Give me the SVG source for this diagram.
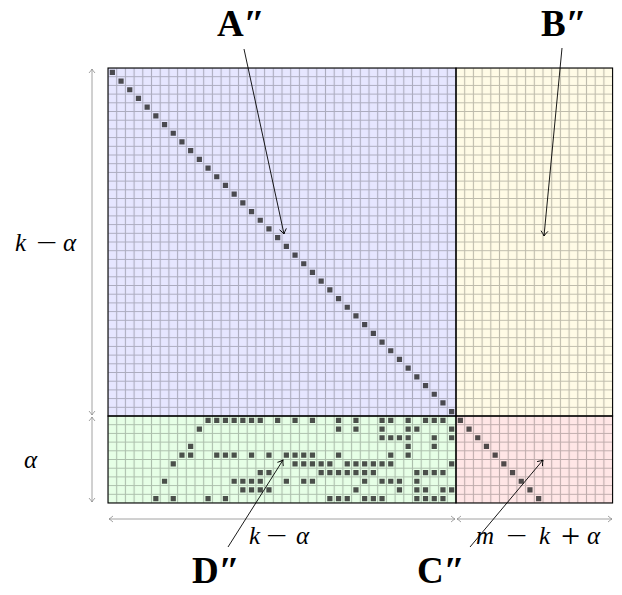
<svg xmlns="http://www.w3.org/2000/svg" width="622" height="595" viewBox="0 0 622 595">
<style>
.grid{fill:url(#grid)}
.blk{stroke:#000;stroke-width:1.1;fill:none}
.dot{fill:#232323;fill-opacity:0.8}
.dim{stroke:#8c8c8c;stroke-width:0.8;fill:none;marker-start:url(#dimhead);marker-end:url(#dimhead)}
.ptr{stroke:#000;stroke-width:0.9;fill:none;marker-end:url(#ptrhead)}
.m{font-family:"Liberation Serif","DejaVu Serif",serif;font-size:25px;fill:#000;font-style:italic}
.op{font-family:"Liberation Serif","DejaVu Serif",serif;font-size:25px;fill:#000}
.pl{font-family:"Liberation Serif","DejaVu Serif",serif;font-size:34px;fill:#000}
.big{font-family:"Liberation Serif","DejaVu Serif",serif;font-size:37px;font-weight:bold;fill:#000}
.pr{font-size:38px}
</style>
<defs>
<pattern id="grid" x="103.65" y="63.65" width="8.7" height="8.7" patternUnits="userSpaceOnUse">
<path d="M4.35 0V8.7M0 4.35H8.7" stroke="#000" stroke-opacity="0.25" stroke-width="1.1" fill="none"/>
</pattern>
<marker id="dimhead" viewBox="-6 -5 8 10" markerWidth="8" markerHeight="10" refX="0" refY="0" orient="auto-start-reverse" markerUnits="userSpaceOnUse">
<path d="M-4,-3 Q-1.5,-0.8 0,0 Q-1.5,0.8 -4,3" stroke="#8c8c8c" stroke-width="0.8" fill="none"/>
</marker>
<marker id="ptrhead" viewBox="-7 -5 9 10" markerWidth="9" markerHeight="10" refX="0" refY="0" orient="auto" markerUnits="userSpaceOnUse">
<path d="M-5,-3.5 Q-2,-1 0,0 Q-2,1 -5,3.5" stroke="#000" stroke-width="0.9" fill="none"/>
</marker>
</defs>
<rect width="622" height="595" fill="#fff"/>

<g id="blockA">
<rect x="108" y="68" width="348" height="348" fill="#e6e6ff"/>
<rect class="grid" x="108" y="68" width="348" height="348"/>
</g>
<g id="blockB">
<rect x="456" y="68" width="156.6" height="348" fill="#fffbe6"/>
<rect class="grid" x="456" y="68" width="156.6" height="348"/>
</g>
<g id="blockD">
<rect x="108" y="416" width="348" height="87" fill="#e6ffe6"/>
<rect class="grid" x="108" y="416" width="348" height="87"/>
</g>
<g id="blockC">
<rect x="456" y="416" width="156.6" height="87" fill="#ffe6e6"/>
<rect class="grid" x="456" y="416" width="156.6" height="87"/>
</g>

<g id="entries" transform="translate(108,68) scale(8.7)">
<path class="dot" d="M0.2 0.2h.6v.6h-.6zM1.2 1.2h.6v.6h-.6zM2.2 2.2h.6v.6h-.6zM3.2 3.2h.6v.6h-.6zM4.2 4.2h.6v.6h-.6zM5.2 5.2h.6v.6h-.6zM6.2 6.2h.6v.6h-.6zM7.2 7.2h.6v.6h-.6zM8.2 8.2h.6v.6h-.6zM9.2 9.2h.6v.6h-.6zM10.2 10.2h.6v.6h-.6zM11.2 11.2h.6v.6h-.6zM12.2 12.2h.6v.6h-.6zM13.2 13.2h.6v.6h-.6zM14.2 14.2h.6v.6h-.6zM15.2 15.2h.6v.6h-.6zM16.2 16.2h.6v.6h-.6zM17.2 17.2h.6v.6h-.6zM18.2 18.2h.6v.6h-.6zM19.2 19.2h.6v.6h-.6zM20.2 20.2h.6v.6h-.6zM21.2 21.2h.6v.6h-.6zM22.2 22.2h.6v.6h-.6zM23.2 23.2h.6v.6h-.6zM24.2 24.2h.6v.6h-.6zM25.2 25.2h.6v.6h-.6zM26.2 26.2h.6v.6h-.6zM27.2 27.2h.6v.6h-.6zM28.2 28.2h.6v.6h-.6zM29.2 29.2h.6v.6h-.6zM30.2 30.2h.6v.6h-.6zM31.2 31.2h.6v.6h-.6zM32.2 32.2h.6v.6h-.6zM33.2 33.2h.6v.6h-.6zM34.2 34.2h.6v.6h-.6zM35.2 35.2h.6v.6h-.6zM36.2 36.2h.6v.6h-.6zM37.2 37.2h.6v.6h-.6zM38.2 38.2h.6v.6h-.6zM39.2 39.2h.6v.6h-.6zM40.2 40.2h.6v.6h-.6zM41.2 41.2h.6v.6h-.6zM42.2 42.2h.6v.6h-.6zM43.2 43.2h.6v.6h-.6zM44.2 44.2h.6v.6h-.6zM45.2 45.2h.6v.6h-.6zM46.2 46.2h.6v.6h-.6zM47.2 47.2h.6v.6h-.6zM48.2 48.2h.6v.6h-.6zM49.2 49.2h.6v.6h-.6z"/>
<path class="dot" d="M11.2 40.2h.6v.6h-.6zM12.2 40.2h.6v.6h-.6zM13.2 40.2h.6v.6h-.6zM14.2 40.2h.6v.6h-.6zM15.2 40.2h.6v.6h-.6zM16.2 40.2h.6v.6h-.6zM17.2 40.2h.6v.6h-.6zM19.2 40.2h.6v.6h-.6zM21.2 40.2h.6v.6h-.6zM23.2 40.2h.6v.6h-.6zM26.2 40.2h.6v.6h-.6zM28.2 40.2h.6v.6h-.6zM31.2 40.2h.6v.6h-.6zM32.2 40.2h.6v.6h-.6zM34.2 40.2h.6v.6h-.6zM36.2 40.2h.6v.6h-.6zM37.2 40.2h.6v.6h-.6zM38.2 40.2h.6v.6h-.6z
M10.2 41.2h.6v.6h-.6zM26.2 41.2h.6v.6h-.6zM28.2 41.2h.6v.6h-.6zM31.2 41.2h.6v.6h-.6zM34.2 41.2h.6v.6h-.6zM35.2 41.2h.6v.6h-.6zM39.2 41.2h.6v.6h-.6z
M31.2 42.2h.6v.6h-.6zM32.2 42.2h.6v.6h-.6zM33.2 42.2h.6v.6h-.6zM34.2 42.2h.6v.6h-.6zM37.2 42.2h.6v.6h-.6zM39.2 42.2h.6v.6h-.6z
M9.2 43.2h.6v.6h-.6zM34.2 43.2h.6v.6h-.6zM37.2 43.2h.6v.6h-.6z
M8.2 44.2h.6v.6h-.6zM9.2 44.2h.6v.6h-.6zM12.2 44.2h.6v.6h-.6zM13.2 44.2h.6v.6h-.6zM14.2 44.2h.6v.6h-.6zM16.2 44.2h.6v.6h-.6zM18.2 44.2h.6v.6h-.6zM20.2 44.2h.6v.6h-.6zM21.2 44.2h.6v.6h-.6zM22.2 44.2h.6v.6h-.6zM23.2 44.2h.6v.6h-.6zM26.2 44.2h.6v.6h-.6zM32.2 44.2h.6v.6h-.6zM34.2 44.2h.6v.6h-.6z
M7.2 45.2h.6v.6h-.6zM21.2 45.2h.6v.6h-.6zM22.2 45.2h.6v.6h-.6zM23.2 45.2h.6v.6h-.6zM24.2 45.2h.6v.6h-.6zM25.2 45.2h.6v.6h-.6zM27.2 45.2h.6v.6h-.6zM28.2 45.2h.6v.6h-.6zM29.2 45.2h.6v.6h-.6zM30.2 45.2h.6v.6h-.6zM31.2 45.2h.6v.6h-.6zM32.2 45.2h.6v.6h-.6zM39.2 45.2h.6v.6h-.6z
M17.2 46.2h.6v.6h-.6zM18.2 46.2h.6v.6h-.6zM24.2 46.2h.6v.6h-.6zM25.2 46.2h.6v.6h-.6zM26.2 46.2h.6v.6h-.6zM27.2 46.2h.6v.6h-.6zM28.2 46.2h.6v.6h-.6zM29.2 46.2h.6v.6h-.6zM30.2 46.2h.6v.6h-.6zM35.2 46.2h.6v.6h-.6zM36.2 46.2h.6v.6h-.6zM37.2 46.2h.6v.6h-.6zM38.2 46.2h.6v.6h-.6z
M6.2 47.2h.6v.6h-.6zM14.2 47.2h.6v.6h-.6zM15.2 47.2h.6v.6h-.6zM16.2 47.2h.6v.6h-.6zM17.2 47.2h.6v.6h-.6zM20.2 47.2h.6v.6h-.6zM22.2 47.2h.6v.6h-.6zM23.2 47.2h.6v.6h-.6zM29.2 47.2h.6v.6h-.6zM31.2 47.2h.6v.6h-.6zM32.2 47.2h.6v.6h-.6zM33.2 47.2h.6v.6h-.6zM35.2 47.2h.6v.6h-.6z
M15.2 48.2h.6v.6h-.6zM16.2 48.2h.6v.6h-.6zM17.2 48.2h.6v.6h-.6zM18.2 48.2h.6v.6h-.6zM28.2 48.2h.6v.6h-.6zM33.2 48.2h.6v.6h-.6zM35.2 48.2h.6v.6h-.6zM36.2 48.2h.6v.6h-.6zM38.2 48.2h.6v.6h-.6zM39.2 48.2h.6v.6h-.6z
M5.2 49.2h.6v.6h-.6zM7.2 49.2h.6v.6h-.6zM11.2 49.2h.6v.6h-.6zM13.2 49.2h.6v.6h-.6zM25.2 49.2h.6v.6h-.6zM26.2 49.2h.6v.6h-.6zM27.2 49.2h.6v.6h-.6zM29.2 49.2h.6v.6h-.6zM30.2 49.2h.6v.6h-.6zM31.2 49.2h.6v.6h-.6zM35.2 49.2h.6v.6h-.6zM36.2 49.2h.6v.6h-.6zM37.2 49.2h.6v.6h-.6zM38.2 49.2h.6v.6h-.6z"/>
</g>

<g id="borders">
<rect class="blk" x="108" y="68" width="348" height="348"/>
<rect class="blk" x="456" y="68" width="156.6" height="348"/>
<rect class="blk" x="108" y="416" width="348" height="87"/>
<rect class="blk" x="456" y="416" width="156.6" height="87"/>
</g>

<g id="connectors">
<line class="dim" x1="92" y1="69" x2="92" y2="415"/>
<line class="dim" x1="92" y1="417" x2="92" y2="502"/>
<line class="dim" x1="109" y1="519" x2="455" y2="519"/>
<line class="dim" x1="457" y1="519" x2="612" y2="519"/>
<line class="ptr" x1="244" y1="49" x2="284" y2="234"/>
<line class="ptr" x1="562" y1="48" x2="544" y2="236"/>
<line class="ptr" x1="228" y1="547" x2="283" y2="460"/>
<line class="ptr" x1="470" y1="547" x2="543" y2="460"/>
</g>

<g id="labels">
<text class="m" x="15" y="251">k</text>
<text class="op" transform="translate(36,251) scale(1.5,1)">−</text>
<text class="m" x="63" y="251">α</text>
<text class="m" x="24" y="468">α</text>
<text class="m" x="249" y="544">k</text>
<text class="op" transform="translate(266,544) scale(1.5,1)">−</text>
<text class="m" x="296" y="544">α</text>
<text class="m" x="476" y="544">m</text>
<text class="op" transform="translate(506,544) scale(1.5,1)">−</text>
<text class="m" x="539" y="544">k</text>
<text class="pl" x="561" y="547">+</text>
<text class="m" x="587" y="544">α</text>
<text class="big" x="217" y="36">A<tspan class="pr">″</tspan></text>
<text class="big" x="541" y="36">B<tspan class="pr">″</tspan></text>
<text class="big" x="192" y="583">D<tspan class="pr">″</tspan></text>
<text class="big" x="417" y="583">C<tspan class="pr">″</tspan></text>
</g>
</svg>
